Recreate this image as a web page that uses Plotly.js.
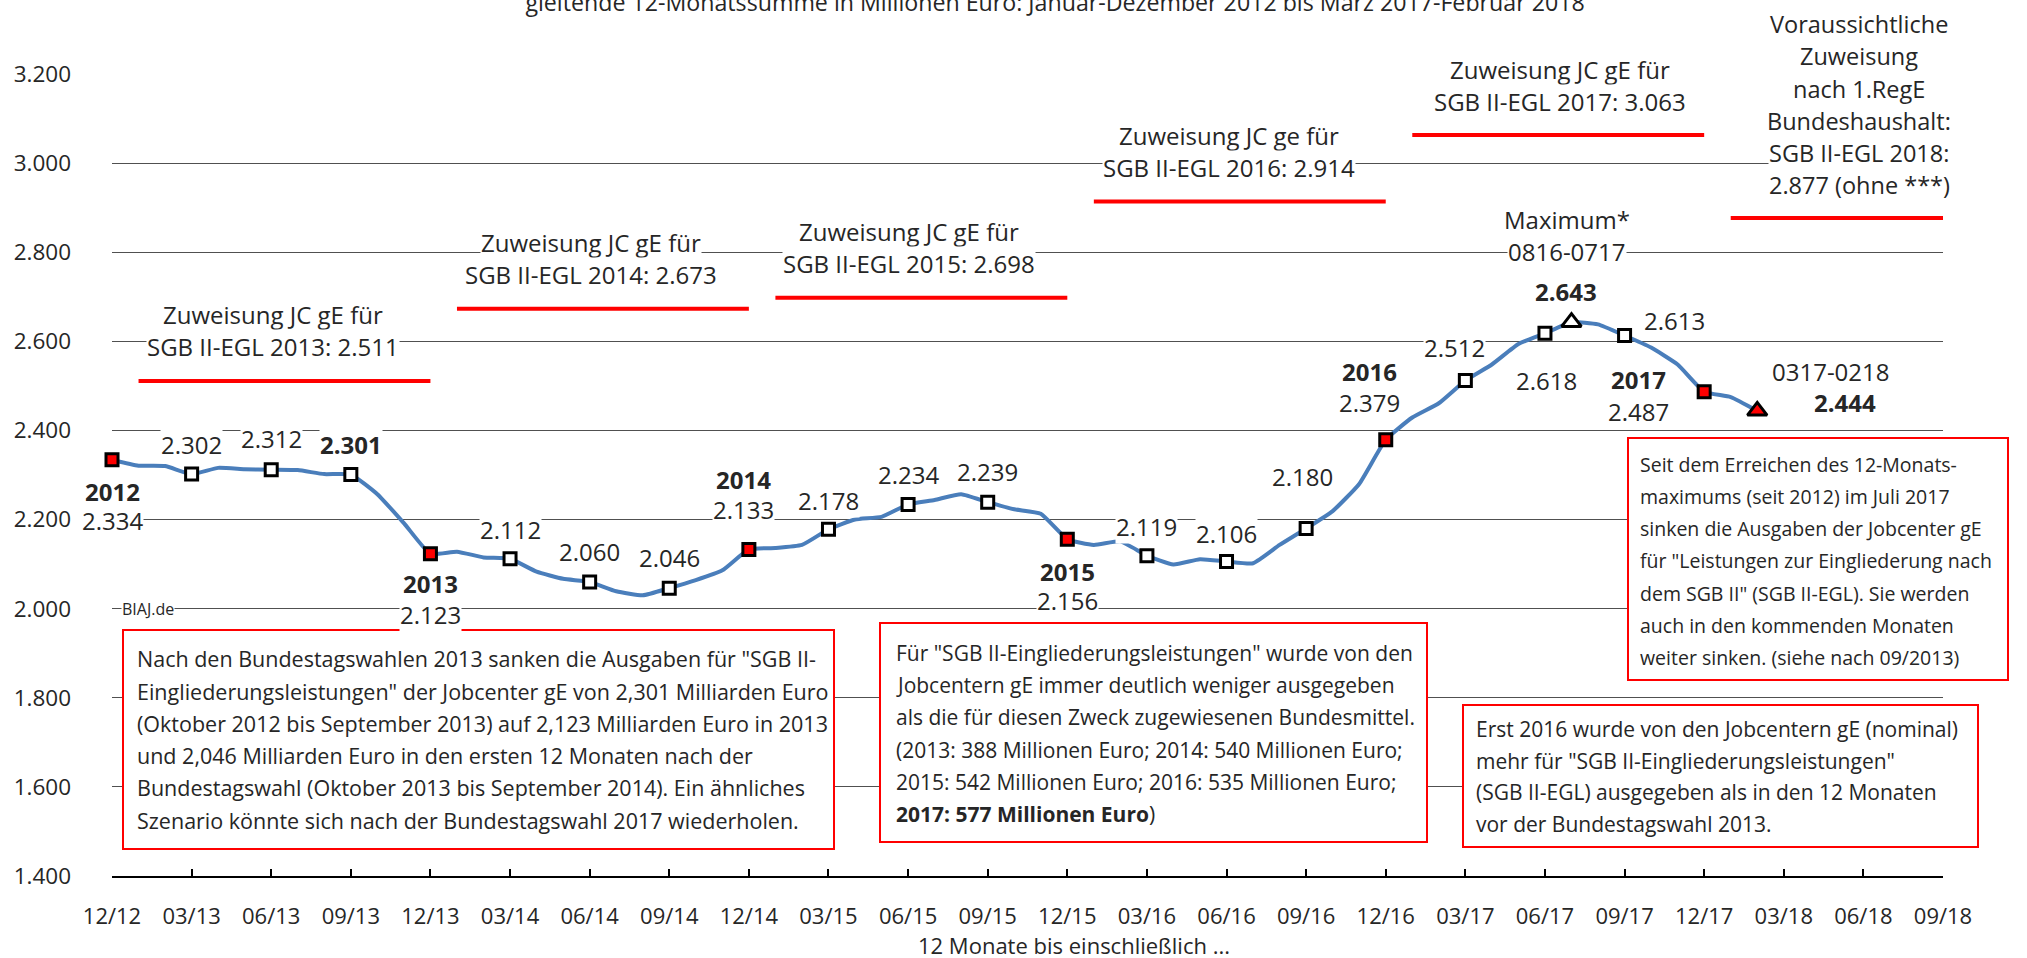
<!DOCTYPE html>
<html>
<head>
<meta charset="utf-8">
<script src="https://cdn.plot.ly/plotly-3.0.1.min.js"></script>
<style>html,body{margin:0;padding:0;background:#fff;}#chart{width:2027px;height:958px;}</style>
</head>
<body>
<div id="chart"></div>
<script>
// ---------- DATA ----------
const months = ['12/12','01/13','02/13','03/13','04/13','05/13','06/13','07/13','08/13','09/13','10/13','11/13',
  '12/13','01/14','02/14','03/14','04/14','05/14','06/14','07/14','08/14','09/14','10/14','11/14',
  '12/14','01/15','02/15','03/15','04/15','05/15','06/15','07/15','08/15','09/15','10/15','11/15',
  '12/15','01/16','02/16','03/16','04/16','05/16','06/16','07/16','08/16','09/16','10/16','11/16',
  '12/16','01/17','02/17','03/17','04/17','05/17','06/17','07/17','08/17','09/17','10/17','11/17',
  '12/17','01/18','02/18','03/18','04/18','05/18','06/18','07/18','08/18','09/18'];

// gleitende 12-Monatssumme, Millionen Euro (12/12 ... 02/18)
const values = [2334, 2321, 2320, 2302, 2316, 2313, 2312, 2311, 2302, 2301, 2257, 2192,
  2123, 2128, 2115, 2112, 2083, 2067, 2060, 2039, 2030, 2046, 2064, 2086,
  2133, 2136, 2143, 2178, 2200, 2206, 2234, 2244, 2257, 2239, 2223, 2213,
  2156, 2143, 2151, 2119, 2099, 2111, 2106, 2102, 2143, 2180, 2219, 2280,
  2379, 2429, 2461, 2512, 2548, 2594, 2618, 2643, 2638, 2613, 2586, 2548,
  2487, 2475, 2444];

const tickLabels = ['12/12','03/13','06/13','09/13','12/13','03/14','06/14','09/14','12/14','03/15','06/15','09/15',
  '12/15','03/16','06/16','09/16','12/16','03/17','06/17','09/17','12/17','03/18','06/18','09/18'];

const yTicks = [1400, 1600, 1800, 2000, 2200, 2400, 2600, 2800, 3000, 3200];

// Zuweisung an Jobcenter gE (SGB II-EGL), Millionen Euro
const allocYears  = ['2013', '2014', '2015', '2016', '2017', '2018'];
const allocValues = [2511, 2673, 2698, 2914, 3063, 2877];
const allocStart  = ['01/13', '01/14', '01/15', '01/16', '01/17', '01/18'];
const allocEnd    = ['12/13', '12/14', '12/15', '12/16', '12/17', '09/18'];

const maxMonth = '07/17';
const lastMonth = '02/18';

// ---------- HELPERS ----------
const FONT = '"Open Sans", "Noto Sans", sans-serif';
const TXT = '#262626';
const RED = '#FF0000';
const FS = 21;      // box text
const FN = 24;      // data labels / allocation labels
const FT = 22.5;    // axis tick labels
const PL = 112, PR = 1943, PT = 74, PB = 876;
const px2x = p => (p - PL) / (PR - PL);
const px2y = p => (PB - p) / (PB - PT);
const dataX = months.slice(0, values.length);
const valOf = m => values[months.indexOf(m)];
const fmt = v => { const s = String(Math.round(v)); return s.slice(0, s.length - 3) + '.' + s.slice(-3); };

// ---------- TRACES ----------
const traces = [];
traces.push({x: months, y: months.map(() => null), mode: 'lines', hoverinfo: 'skip', showlegend: false});

allocYears.forEach((yr, i) => {
  traces.push({x: [allocStart[i], allocEnd[i]], y: [allocValues[i], allocValues[i]], mode: 'lines',
    line: {color: RED, width: 4}, hoverinfo: 'skip', showlegend: false, cliponaxis: false});
});

traces.push({x: dataX, y: values, mode: 'lines', line: {color: '#4A7EBB', width: 4, shape: 'spline', smoothing: 0.45},
  hoverinfo: 'skip', showlegend: false, cliponaxis: false});

const qx = dataX.filter((m, i) => i % 3 === 0);
traces.push({x: qx, y: qx.map(valOf), mode: 'markers', cliponaxis: false,
  marker: {symbol: 'square', size: 12, color: qx.map(m => m.startsWith('12/') ? RED : '#FFFFFF'),
    line: {color: '#000', width: 3}}, hoverinfo: 'skip', showlegend: false});

traces.push({x: [maxMonth, lastMonth], y: [valOf(maxMonth), valOf(lastMonth)], mode: 'markers', cliponaxis: false,
  marker: {symbol: 'triangle-up', size: 17, color: ['#FFFFFF', RED], line: {color: '#000', width: 3}},
  hoverinfo: 'skip', showlegend: false});

// ---------- ANNOTATIONS ----------
const anns = [];
function dlab(m, text, dy, dx, bold) {
  anns.push({x: m, y: valOf(m), xref: 'x', yref: 'y', text: bold ? '<b>' + text + '</b>' : text,
    showarrow: false, xanchor: 'center', yanchor: 'middle', xshift: dx || 0, yshift: dy,
    font: {family: FONT, size: FN, color: TXT}, bgcolor: '#FFFFFF', borderpad: 0});
}
dlab('12/12', '2012', -32, 0, true); dlab('12/12', fmt(valOf('12/12')), -61, 0);
dlab('03/13', fmt(valOf('03/13')), 30, 0);
dlab('06/13', fmt(valOf('06/13')), 31, 0);
dlab('09/13', fmt(valOf('09/13')), 30, 0, true);
dlab('12/13', '2013', -30, 0, true); dlab('12/13', fmt(valOf('12/13')), -61, 0);
dlab('03/14', fmt(valOf('03/14')), 29, 0);
dlab('06/14', fmt(valOf('06/14')), 30, 0);
dlab('09/14', fmt(valOf('09/14')), 31, 0);
dlab('12/14', '2014', 70, -5, true); dlab('12/14', fmt(valOf('12/14')), 40, -5);
dlab('03/15', fmt(valOf('03/15')), 29, 0);
dlab('06/15', fmt(valOf('06/15')), 30, 0);
dlab('09/15', fmt(valOf('09/15')), 31, 0);
dlab('12/15', '2015', -32, 0, true); dlab('12/15', fmt(valOf('12/15')), -61, 0);
dlab('03/16', fmt(valOf('03/16')), 29, 0);
dlab('06/16', fmt(valOf('06/16')), 28, 0);
dlab('09/16', fmt(valOf('09/16')), 52, -4);
dlab('12/16', '2016', 68, -16, true); dlab('12/16', fmt(valOf('12/16')), 37, -16);
dlab('03/17', fmt(valOf('03/17')), 33, -11);
dlab('06/17', fmt(valOf('06/17')), -47, 2);
dlab(maxMonth, fmt(valOf(maxMonth)), 31, -5, true);
dlab(maxMonth, 'Maximum*', 103, -4);
dlab(maxMonth, '0816-0717', 71, -4);
dlab('09/17', fmt(valOf('09/17')), 15, 50);
dlab('12/17', '2017', 12, -66, true); dlab('12/17', fmt(valOf('12/17')), -20, -66);
dlab(lastMonth, '0317-0218', 39, 74);
dlab(lastMonth, fmt(valOf(lastMonth)), 8, 88, true);

const allocTextX = [6.06, 18.06, 30.05, 42.1, 54.55];
allocYears.slice(0, 5).forEach((yr, i) => {
  const ge = yr === '2016' ? 'ge' : 'gE';
  const base = {x: allocTextX[i], y: allocValues[i], xref: 'x', yref: 'y', showarrow: false, xanchor: 'center',
    yanchor: 'middle', font: {family: FONT, size: FN, color: TXT}, bgcolor: '#FFFFFF', borderpad: 0};
  anns.push(Object.assign({}, base, {text: 'Zuweisung JC ' + ge + ' für', yshift: 66}));
  anns.push(Object.assign({}, base, {text: 'SGB II-EGL ' + yr + ': ' + fmt(allocValues[i]), yshift: 34}));
});

function lines(arr, xPx, y0, dy, xanchor, size, bg) {
  arr.forEach((t, i) => anns.push({xref: 'paper', yref: 'paper', x: px2x(xPx), y: px2y(y0 + i * dy), text: t,
    showarrow: false, xanchor: xanchor, yanchor: 'middle', font: {family: FONT, size: size || FS, color: TXT},
    bgcolor: bg || 'rgba(0,0,0,0)', borderpad: 0}));
}
lines(['Voraussichtliche', 'Zuweisung', 'nach 1.RegE', 'Bundeshaushalt:', 'SGB II-EGL ' + allocYears[5] + ':',
  fmt(allocValues[5]) + ' (ohne ***)'], 1859, 24, 32.3, 'center', 23.5, '#FFFFFF');

lines(['BIAJ.de'], 148, 609, 0, 'center', 16, '#FFFFFF');

lines(['12 Monate bis einschließlich ...'], 1074, 945, 0, 'center', 22);

const shapes = [];
function box(x0, y0, x1, y1) {
  shapes.push({type: 'rect', xref: 'paper', yref: 'paper', x0: px2x(x0), x1: px2x(x1), y0: px2y(y0), y1: px2y(y1),
    line: {color: RED, width: 2}, fillcolor: '#FFFFFF', layer: 'above'});
}
box(123, 630, 834, 849);
lines(['Nach den Bundestagswahlen 2013 sanken die Ausgaben für "SGB II-',
  'Eingliederungsleistungen" der Jobcenter gE von 2,301 Milliarden Euro',
  '(Oktober 2012 bis September 2013) auf 2,123 Milliarden Euro in 2013',
  'und 2,046 Milliarden Euro in den ersten 12 Monaten nach der',
  'Bundestagswahl (Oktober 2013 bis September 2014). Ein ähnliches',
  'Szenario könnte sich nach der Bundestagswahl 2017 wiederholen.'], 136, 659, 32.2, 'left', 21.5);

box(880, 623, 1427, 842);
lines(['Für "SGB II-Eingliederungsleistungen" wurde von den',
  'Jobcentern gE immer deutlich weniger ausgegeben',
  'als die für diesen Zweck zugewiesenen Bundesmittel.',
  '(2013: 388 Millionen Euro; 2014: 540 Millionen Euro;',
  '2015: 542 Millionen Euro; 2016: 535 Millionen Euro;',
  '<b>2017: 577 Millionen Euro</b>)'], 895, 653, 32.2, 'left', 21);

box(1628, 438, 2008, 680);
lines(['Seit dem Erreichen des 12-Monats-',
  'maximums (seit 2012) im Juli 2017',
  'sinken die Ausgaben der Jobcenter gE',
  'für "Leistungen zur Eingliederung nach',
  'dem SGB II" (SGB II-EGL). Sie werden',
  'auch in den kommenden Monaten',
  'weiter sinken. (siehe nach 09/2013)'], 1639, 464, 32.3, 'left', 19.5);

box(1463, 705, 1978, 847);
lines(['Erst 2016 wurde von den Jobcentern gE (nominal)',
  'mehr für "SGB II-Eingliederungsleistungen"',
  '(SGB II-EGL) ausgegeben als in den 12 Monaten',
  'vor der Bundestagswahl 2013.'], 1475, 729, 31.7, 'left', 21);

// ---------- LAYOUT ----------
const layout = {
  width: 2027, height: 958,
  margin: {l: PL, r: 2027 - PR, t: PT, b: 958 - PB, pad: 0, autoexpand: false},
  paper_bgcolor: '#FFFFFF', plot_bgcolor: '#FFFFFF',
  separators: ',.',
  showlegend: false,
  font: {family: FONT, size: FS, color: TXT},
  title: {text: 'gleitende 12-Monatssumme in Millionen Euro: Januar-Dezember 2012 bis März 2017-Februar 2018',
    font: {family: FONT, size: 23.2, color: TXT}, xref: 'container', yref: 'container',
    x: 0.5205, xanchor: 'center', y: 0.997, yanchor: 'middle'},
  xaxis: {type: 'category', categoryorder: 'array', categoryarray: months, range: [0, months.length - 1],
    tickmode: 'array', tickvals: tickLabels, ticktext: tickLabels, ticks: 'inside', ticklen: 7, tickwidth: 2,
    tickcolor: '#000', showline: true, linecolor: '#000', linewidth: 2, showgrid: false, zeroline: false,
    tickfont: {family: FONT, size: 22, color: TXT}, ticklabelstandoff: 20, automargin: false, fixedrange: true},
  yaxis: {range: [yTicks[0], yTicks[yTicks.length - 1]], tickmode: 'array', tickvals: yTicks,
    ticktext: yTicks.map(fmt), showgrid: true, gridcolor: '#505050', gridwidth: 1, zeroline: false,
    showline: false, ticks: '', tickfont: {family: FONT, size: FT, color: TXT}, ticklabelstandoff: 40,
    automargin: false, fixedrange: true},
  annotations: anns,
  shapes: shapes
};

Plotly.newPlot('chart', traces, layout, {staticPlot: true, displayModeBar: false});
</script>
</body>
</html>
